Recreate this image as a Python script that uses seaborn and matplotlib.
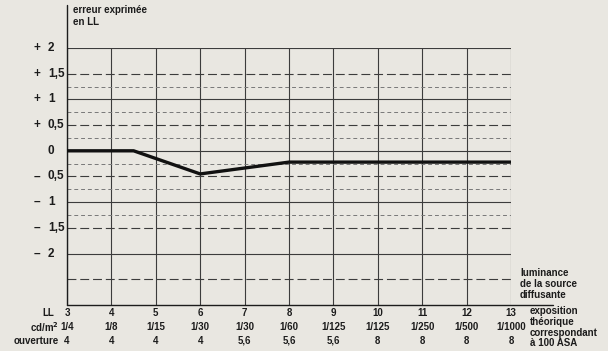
import numpy as np
import pandas as pd
import matplotlib
matplotlib.use("Agg")
import matplotlib.pyplot as plt
import seaborn as sns

# --- data ---
ll_points = [3, 4, 4.5, 6, 8, 9, 10, 11, 12, 13]
erreur = [0, 0, 0, -0.45, -0.22, -0.22, -0.22, -0.22, -0.22, -0.22]

ll_ticks = [3, 4, 5, 6, 7, 8, 9, 10, 11, 12, 13]
cd_m2 = ["1/4", "1/8", "1/15", "1/30", "1/30", "1/60", "1/125", "1/125", "1/250", "1/500", "1/1000"]
ouverture = ["4", "4", "4", "4", "5,6", "5,6", "5,6", "8", "8", "8", "8"]

y_ticks = [2, 1.5, 1, 0.5, 0, -0.5, -1, -1.5, -2]
y_signs = ["+", "+", "+", "+", "", "\u2013", "\u2013", "\u2013", "\u2013"]
y_numbers = ["2", "1,5", "1", "0,5", "0", "0,5", "1", "1,5", "2"]

df = pd.DataFrame({"LL": ll_points, "erreur": erreur})

sns.set_style("white")
plt.rcParams["font.family"] = ["Liberation Sans", "DejaVu Sans"]

PAPER = "#e9e7e1"
INK = "#1c1c1c"
GRID = "#3c3c3c"

fig = plt.figure(figsize=(6.08, 3.51), dpi=100, facecolor=PAPER)
ax = fig.add_axes([67 / 608, 1 - 305 / 351, 444 / 608, 257 / 351])
ax.set_facecolor(PAPER)
ax.set_xlim(3, 13)
ax.set_ylim(-3, 2)

# grid
for x in ll_ticks:
    ax.axvline(x, color=GRID, lw=0.8, zorder=1)
for y in [2, 1, 0, -1, -2]:
    ax.axhline(y, color=GRID, lw=0.8, zorder=1)
for y in [1.5, 0.5, -0.5, -1.5, -2.5]:
    ax.axhline(y, color=GRID, lw=0.8, ls=(0, (8, 3.5)), zorder=1)
for y in [1.25, 0.75, 0.25, -0.25, -0.75, -1.25]:
    ax.axhline(y, color="#787878", lw=0.7, ls=(0, (4, 3)), zorder=1)

sns.lineplot(data=df, x="LL", y="erreur", color="#111111", lw=2.4, ax=ax, zorder=3)

for s in ax.spines.values():
    s.set_visible(False)
# extended left and bottom axis lines
ax.plot([0, 0], [0, 1.167], transform=ax.transAxes, color=INK, lw=1, clip_on=False)
ax.plot([0, 1.095], [0, 0], transform=ax.transAxes, color=INK, lw=1, clip_on=False)

ax.set_xlabel("")
ax.set_ylabel("")
ax.set_xticks([])
ax.set_yticks([])

# y labels: sign and number in two columns
ytrans = ax.get_yaxis_transform()
for y, sg, num in zip(y_ticks, y_signs, y_numbers):
    ax.text(-0.075, y, sg, transform=ytrans, ha="left", va="center", fontsize=8.5, fontweight="bold", color=INK)
    ax.text(-0.043, y, num, transform=ytrans, ha="left", va="center", fontsize=8.5, fontweight="bold", color=INK)

# bottom label rows
trans = ax.get_xaxis_transform()
for x, a, b in zip(ll_ticks, cd_m2, ouverture):
    ax.text(x, -0.031, str(x), transform=trans, ha="center", va="center", fontsize=7, fontweight="bold", color=INK)
    ax.text(x, -0.086, a, transform=trans, ha="center", va="center", fontsize=7, fontweight="bold", color=INK)
    ax.text(x, -0.140, b, transform=trans, ha="center", va="center", fontsize=7, fontweight="bold", color=INK)

fig.text(54 / 608, 1 - 313 / 351, "LL", ha="right", va="center", fontsize=7, fontweight="bold", color=INK)
fig.text(59 / 608, 1 - 327 / 351, "cd/m$^\\mathbf{2}$", ha="right", va="center", fontsize=7, fontweight="bold", color=INK)
fig.text(59 / 608, 1 - 341 / 351, "ouverture", ha="right", va="center", fontsize=7, fontweight="bold", color=INK)

fig.text(73 / 608, 1 - 5 / 351, "erreur exprimée\nen LL", ha="left", va="top", fontsize=7, fontweight="bold", color=INK, linespacing=1.2)
fig.text(520 / 608, 1 - 268 / 351, "luminance\nde la source\ndiffusante", ha="left", va="top", fontsize=7, fontweight="bold", color=INK, linespacing=1.1)
fig.text(530 / 608, 1 - 306 / 351, "exposition\nthéorique\ncorrespondant\nà 100 ASA", ha="left", va="top", fontsize=7, fontweight="bold", color=INK, linespacing=1.1)

fig.savefig("out.png", dpi=100, facecolor=PAPER)
